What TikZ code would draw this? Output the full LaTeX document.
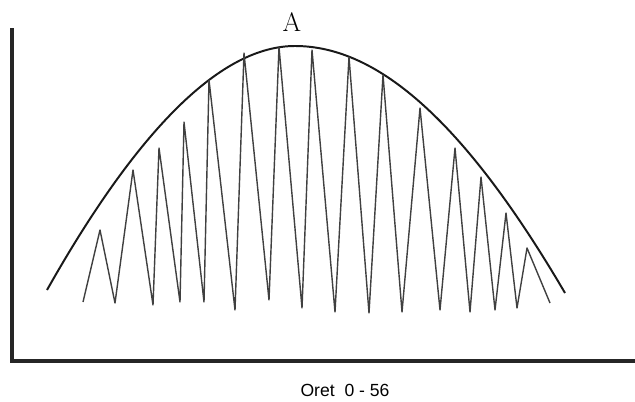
\documentclass[tikz,border=0pt]{standalone}
\usepackage{fontspec}
\newfontfamily\captionfont{Liberation Sans}
\usepackage{tikz}

\begin{document}
\begin{tikzpicture}[x=0.025cm, y=-0.025cm]
        % Define line styles
        \tikzstyle{axis} = [line width=2.2pt, black!85, line cap=rect]
        \tikzstyle{envelope} = [line width=1.4pt, black!90]
        \tikzstyle{wave} = [line width=1pt, black!75, line join=round]

        \useasboundingbox (0,0) rectangle (635,401);

        % Axes
        \coordinate (top) at (12,30);
        \coordinate (origin) at (12,361);
        \coordinate (right) at (635,361);
        \draw [axis] (top) -- (origin) -- (right);

        % Envelope curve
        \coordinate (left end) at (47,290);
        \coordinate (vertex) at (295,46);
        \coordinate (right end) at (565,293);
        \draw [envelope] (left end) .. controls (139,127) and (222,46) .. (vertex)
          .. controls (379,46) and (466,124) .. (right end);

        % Oscillation inside the envelope
        \draw [wave] (83,302) -- (100,230) -- (115,303) -- (133,170) -- (153,305)
          -- (159,148) -- (180,302) -- (184,122) -- (204,302) -- (209,80)
          -- (235,310) -- (244,53) -- (269,300) -- (279,47) -- (302,308)
          -- (312,50) -- (335,312) -- (349,57) -- (369,313) -- (383,75)
          -- (402,312) -- (420,108) -- (440,310) -- (455,148) -- (470,312)
          -- (481,177) -- (495,310) -- (506,213) -- (517,308) -- (527,248)
          -- (550,303);

        % Labels
        \node (peak) at (292,22) {\fontsize{19}{22}\selectfont A};
        \node (caption) at (345,390) {\captionfont\fontsize{12.5}{15}\selectfont Oret\ \ 0 - 56};
\end{tikzpicture}
\end{document}
